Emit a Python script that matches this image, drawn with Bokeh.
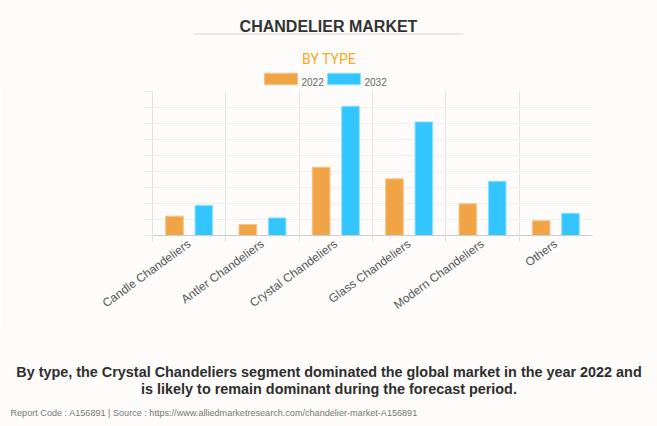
from bokeh.plotting import figure
from bokeh.layouts import column
from bokeh.models import ColumnDataSource, FixedTicker, Range1d
from bokeh.core.properties import value
from bokeh.transform import dodge
from bokeh.embed import file_html
from bokeh.resources import INLINE

# ---- data ----
categories = ["Candle Chandeliers", "Antler Chandeliers", "Crystal Chandeliers",
              "Glass Chandeliers", "Modern Chandeliers", "Others"]
v2022 = [1.21, 0.69, 4.27, 3.54, 1.98, 0.92]
v2032 = [1.88, 1.10, 8.08, 7.10, 3.39, 1.39]
years = ["2022", "2032"]
y_ticks = list(range(0, 10))

title_text = "CHANDELIER MARKET"
subtitle_text = "BY TYPE"
caption_lines = ["By type, the Crystal Chandeliers segment dominated the global market in the year 2022 and",
                 "is likely to remain dominant during the forecast period."]
footer_text = "Report Code : A156891  |  Source : https://www.alliedmarketresearch.com/chandelier-market-A156891"

# ---- style ----
FONT = "Liberation Sans"
BG = "#fdfcfb"
ORANGE = "#f0a445"
BLUE = "#33c6fe"
ORANGE_EDGE = "#f6c58c"
BLUE_EDGE = "#8fe0ff"
W = 657


def blank(height):
    f = figure(width=W, height=height, output_backend="svg", toolbar_location=None,
               x_range=Range1d(0, W), y_range=Range1d(height, 0),
               min_border=0, min_border_left=0, min_border_right=0,
               min_border_top=0, min_border_bottom=0)
    f.frame_width = W
    f.frame_height = height
    f.axis.visible = False
    f.grid.visible = False
    f.outline_line_color = None
    f.background_fill_color = BG
    f.border_fill_color = BG
    return f


# ---- header ----
HH = 87
head = blank(HH)
head.text(x=[328], y=[25.7], text=[title_text], text_font=value(FONT), text_font_size="16px",
          text_font_style="bold", text_color="#333333", text_align="center",
          text_baseline="alphabetic")
head.segment(x0=[193], y0=[33.5], x1=[463], y1=[33.5], line_color="#e8e8e8", line_width=2)
head.text(x=[328.5], y=[58.3], text=[subtitle_text], text_font=value("Roboto"),
          text_font_size="14px", text_color="#f7a823", text_align="center",
          text_baseline="alphabetic")
head.rect(x=[280.5, 343.5], y=[78.5, 78.5], width=33, height=11.5,
          fill_color=[ORANGE, BLUE], line_color=[ORANGE_EDGE, BLUE_EDGE], line_width=1)
head.text(x=[301, 364], y=[81.8, 81.8], text=years, text_font=value(FONT),
          text_font_size="10px", text_color="#666666", text_align="left",
          text_baseline="alphabetic")

# ---- chart ----
pos = list(range(len(categories)))
src = ColumnDataSource(dict(x=pos, cat=categories, a=v2022, b=v2032))

p = figure(width=W, height=244, output_backend="svg", toolbar_location=None,
           x_range=Range1d(-0.5, len(categories) - 0.5), y_range=Range1d(0, 9),
           min_border_left=152, min_border_right=65, min_border_top=4, min_border_bottom=96)
p.frame_width = 440
p.frame_height = 144
p.background_fill_color = BG
p.border_fill_color = BG
p.outline_line_color = None

r1 = p.vbar(x=dodge("x", -0.2, range=p.x_range), top="a", width=0.24, source=src,
            fill_color=ORANGE, line_color=ORANGE_EDGE, line_width=1)
r2 = p.vbar(x=dodge("x", 0.2, range=p.x_range), top="b", width=0.24, source=src,
            fill_color=BLUE, line_color=BLUE_EDGE, line_width=1)

bounds = [i - 0.5 for i in pos]
p.xaxis.ticker = FixedTicker(ticks=pos, minor_ticks=bounds)
p.xaxis.major_label_overrides = {i: c for i, c in zip(pos, categories)}
p.xaxis.major_label_orientation = 0.63
p.xaxis.major_label_text_font = FONT
p.xaxis.major_label_text_font_size = "12px"
p.xaxis.major_label_text_color = "#555555"
p.xaxis.major_tick_line_color = None
p.xaxis.major_tick_out = 0
p.xaxis.major_tick_in = 0
p.xaxis.major_label_standoff = 1
p.xaxis.minor_tick_out = 6
p.xaxis.minor_tick_in = 0
p.xaxis.minor_tick_line_color = "#dddddd"
p.xaxis.axis_line_color = "#cccccc"

p.yaxis.ticker = FixedTicker(ticks=y_ticks)
p.yaxis.major_label_text_color = None
p.yaxis.major_label_text_font_size = "1px"
p.yaxis.major_tick_out = 8
p.yaxis.major_tick_in = 0
p.yaxis.major_tick_line_color = "#ececec"
p.yaxis.minor_tick_line_color = None
p.yaxis.axis_line_color = "#e2e2e2"

p.xgrid.ticker = FixedTicker(ticks=bounds)
p.xgrid.grid_line_color = "#e4e4e4"
p.ygrid.ticker = FixedTicker(ticks=y_ticks)
p.ygrid.grid_line_color = "#efefef"

# ---- footer ----
FH = 426 - HH - 244
foot = blank(FH)
y0 = HH + 244
foot.text(x=[328.5, 328.5], y=[371.3 - y0, 388.5 - y0], text=caption_lines,
          text_font=value(FONT), text_font_size="14.4px", text_font_style="bold",
          text_color="#2e2e2e", text_align="center", text_baseline="alphabetic")
foot.text(x=[10], y=[412.3 - y0], text=[footer_text], text_font=value(FONT),
          text_font_size="9.1px", text_color="#777777", text_align="left",
          text_baseline="alphabetic")

layout = column(column(head), column(p), column(foot), spacing=0)

open("out.html", "w").write(file_html(layout, INLINE))
